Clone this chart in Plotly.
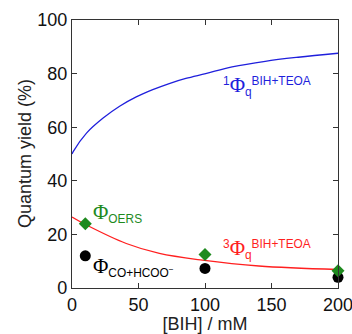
import plotly.graph_objects as go

# Fitted curves
singlet_x = [0, 1, 10.9, 23.4, 35.8, 48.3, 60.7, 73.1, 85.6, 100.5, 120.4, 145.3, 170.1, 200]
singlet_y = [50, 51, 57.8, 63.4, 67.8, 71.3, 74.0, 76.3, 78.2, 80.0, 82.5, 84.6, 86.1, 87.6]
triplet_x = [0, 10.9, 40.8, 65.7, 98, 140.5, 200]
triplet_y = [26.5, 23.5, 16.6, 12.9, 10.4, 8.2, 6.9]

# Measured points
bih = [10, 100, 200]
phi_oers = [24.0, 12.5, 6.4]
phi_co = [12.0, 7.3, 4.0]

x_ticks = [0, 50, 100, 150, 200]
y_ticks = [0, 20, 40, 60, 80, 100]

BLUE = "#1f1fdc"
RED = "#ff1f1f"
GREEN = "#1e8a1e"

fig = go.Figure()
fig.add_trace(go.Scatter(x=singlet_x, y=singlet_y, mode="lines", line=dict(color=BLUE, width=1.3, shape="spline"), showlegend=False))
fig.add_trace(go.Scatter(x=triplet_x, y=triplet_y, mode="lines", line=dict(color=RED, width=1.3, shape="spline"), showlegend=False))
fig.add_trace(go.Scatter(x=bih, y=phi_co, mode="markers", marker=dict(symbol="circle", size=11, color="black"), showlegend=False, cliponaxis=False))
fig.add_trace(go.Scatter(x=bih, y=phi_oers, mode="markers", marker=dict(symbol="diamond", size=10, color=GREEN), showlegend=False, cliponaxis=False))

PHI = '<span style="font-family:Liberation Serif;font-size:21px">Φ</span>'

def ann(x, y, text, color):
    fig.add_annotation(x=x, y=y, xref="x", yref="y", text=text, showarrow=False,
                       xanchor="left", yanchor="middle", font=dict(color=color, size=17, family="Liberation Sans"))

ann(112, 75.5, "<sup>1</sup>" + PHI + "<sub>q</sub><sup>BIH+TEOA</sup>", BLUE)
ann(112, 14.5, "<sup>3</sup>" + PHI + "<sub>q</sub><sup>BIH+TEOA</sup>", RED)
ann(14, 28, PHI + "<sub>OERS</sub>", GREEN)
ann(14, 7.8, PHI + "<sub>CO+HCOO<sup>−</sup></sub>", "black")

# y-axis title as a rotated annotation so it can sit closer to the tick labels
fig.add_annotation(x=0, y=0.5, xref="paper", yref="paper", xshift=-47, text="Quantum yield (%)",
                   textangle=-90, showarrow=False, xanchor="center", yanchor="middle",
                   font=dict(size=18, color="#222", family="Liberation Sans"))

axis_common = dict(showline=True, linecolor="#333", linewidth=1.2, mirror="ticks", ticks="inside",
                   ticklen=5, tickcolor="#333", showgrid=False, zeroline=False,
                   tickfont=dict(size=18, color="#111", family="Liberation Sans"))
fig.update_xaxes(range=[0, 200], tickvals=x_ticks, ticklabeloverflow="allow",
                 title=dict(text="[BIH] / mM", font=dict(size=18, color="#222"), standoff=9), **axis_common)
fig.update_yaxes(range=[0, 100], tickvals=y_ticks, **axis_common)

fig.update_layout(width=352, height=334, margin=dict(l=72, r=14, t=20, b=46, autoexpand=False),
                  paper_bgcolor="white", plot_bgcolor="white",
                  font=dict(family="Liberation Sans"))
# remove the page's default body margin so the figure fills the window
fig.write_html("out.html", config={"displayModeBar": False},
               post_script="document.body.style.margin='0';document.body.style.overflow='hidden';")
